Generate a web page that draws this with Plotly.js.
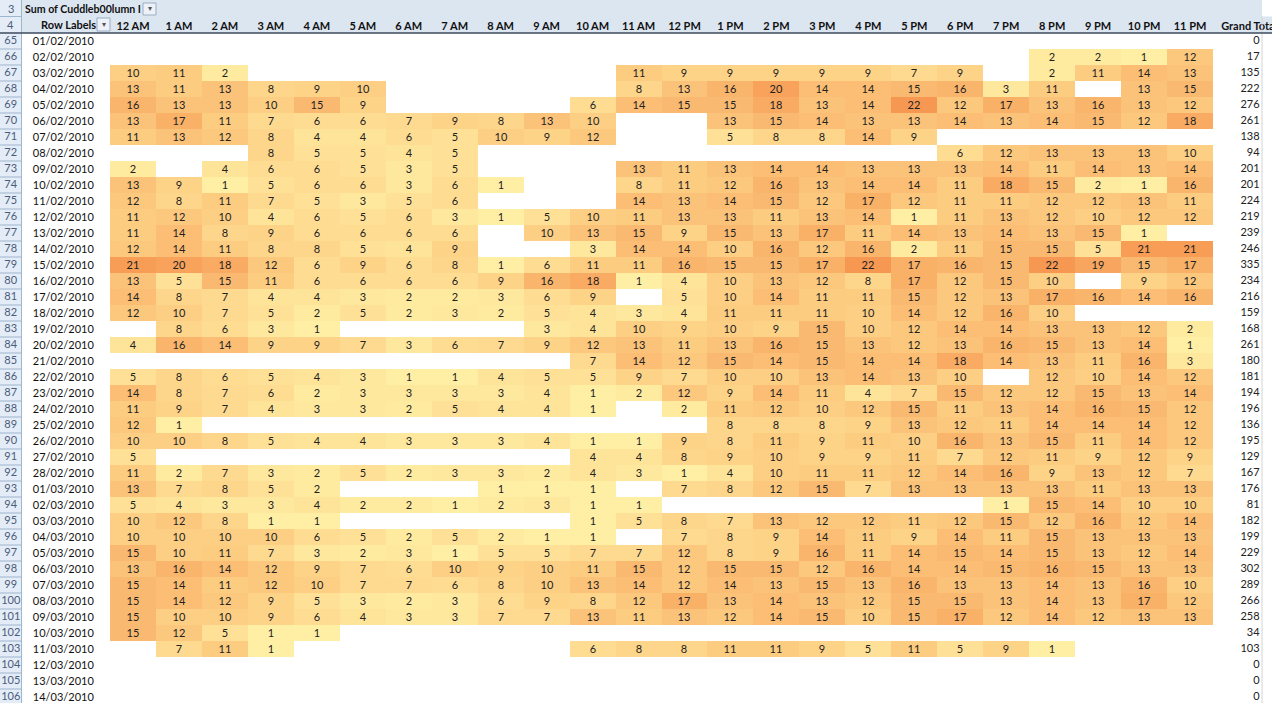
<!DOCTYPE html>
<html>
<head>
<meta charset="utf-8">
<script src="https://cdn.plot.ly/plotly-3.0.1.min.js"></script>
<style>html,body{margin:0;padding:0;background:#fff;}#chart{width:1272px;height:703px;}</style>
</head>
<body>
<div id="chart"></div>
<script>
const n = null;
const hours = ['12 AM','1 AM','2 AM','3 AM','4 AM','5 AM','6 AM','7 AM','8 AM','9 AM','10 AM','11 AM',
               '12 PM','1 PM','2 PM','3 PM','4 PM','5 PM','6 PM','7 PM','8 PM','9 PM','10 PM','11 PM'];
const rowNums = [65,66,67,68,69,70,71,72,73,74,75,76,77,78,79,80,81,82,83,84,85,
                 86,87,88,89,90,91,92,93,94,95,96,97,98,99,100,101,102,103,104,105,106];
const dates = ['01/02/2010','02/02/2010','03/02/2010','04/02/2010','05/02/2010','06/02/2010','07/02/2010',
               '08/02/2010','09/02/2010','10/02/2010','11/02/2010','12/02/2010','13/02/2010','14/02/2010',
               '15/02/2010','16/02/2010','17/02/2010','18/02/2010','19/02/2010','20/02/2010','21/02/2010',
               '22/02/2010','23/02/2010','24/02/2010','25/02/2010','26/02/2010','27/02/2010','28/02/2010',
               '01/03/2010','02/03/2010','03/03/2010','04/03/2010','05/03/2010','06/03/2010','07/03/2010',
               '08/03/2010','09/03/2010','10/03/2010','11/03/2010','12/03/2010','13/03/2010','14/03/2010'];
const counts = [
  [n,n,n,n,n,n,n,n,n,n,n,n,n,n,n,n,n,n,n,n,n,n,n,n],
  [n,n,n,n,n,n,n,n,n,n,n,n,n,n,n,n,n,n,n,n,2,2,1,12],
  [10,11,2,n,n,n,n,n,n,n,n,11,9,9,9,9,9,7,9,n,2,11,14,13],
  [13,11,13,8,9,10,n,n,n,n,n,8,13,16,20,14,14,15,16,3,11,n,13,15],
  [16,13,13,10,15,9,n,n,n,n,6,14,15,15,18,13,14,22,12,17,13,16,13,12],
  [13,17,11,7,6,6,7,9,8,13,10,n,n,13,15,14,13,13,14,13,14,15,12,18],
  [11,13,12,8,4,4,6,5,10,9,12,n,n,5,8,8,14,9,n,n,n,n,n,n],
  [n,n,n,8,5,5,4,5,n,n,n,n,n,n,n,n,n,n,6,12,13,13,13,10],
  [2,n,4,6,6,5,3,5,n,n,n,13,11,13,14,14,13,13,13,14,11,14,13,14],
  [13,9,1,5,6,6,3,6,1,n,n,8,11,12,16,13,14,14,11,18,15,2,1,16],
  [12,8,11,7,5,3,5,6,n,n,n,14,13,14,15,12,17,12,11,11,12,12,13,11],
  [11,12,10,4,6,5,6,3,1,5,10,11,13,13,11,13,14,1,11,13,12,10,12,12],
  [11,14,8,9,6,6,6,6,n,10,13,15,9,15,13,17,11,14,13,14,13,15,1,n],
  [12,14,11,8,8,5,4,9,n,n,3,14,14,10,16,12,16,2,11,15,15,5,21,21],
  [21,20,18,12,6,9,6,8,1,6,11,11,16,15,15,17,22,17,16,15,22,19,15,17],
  [13,5,15,11,6,6,6,6,9,16,18,1,4,10,13,12,8,17,12,15,10,n,9,12],
  [14,8,7,4,4,3,2,2,3,6,9,n,5,10,14,11,11,15,12,13,17,16,14,16],
  [12,10,7,5,2,5,2,3,2,5,4,3,4,11,11,11,10,14,12,16,10,n,n,n],
  [n,8,6,3,1,n,n,n,n,3,4,10,9,10,9,15,10,12,14,14,13,13,12,2],
  [4,16,14,9,9,7,3,6,7,9,12,13,11,13,16,15,13,12,13,16,15,13,14,1],
  [n,n,n,n,n,n,n,n,n,n,7,14,12,15,14,15,14,14,18,14,13,11,16,3],
  [5,8,6,5,4,3,1,1,4,5,5,9,7,10,10,13,14,13,10,n,12,10,14,12],
  [14,8,7,6,2,3,3,3,3,4,1,2,12,9,14,11,4,7,15,12,12,15,13,14],
  [11,9,7,4,3,3,2,5,4,4,1,n,2,11,12,10,12,15,11,13,14,16,15,12],
  [12,1,n,n,n,n,n,n,n,n,n,n,n,8,8,8,9,13,12,11,14,14,14,12],
  [10,10,8,5,4,4,3,3,3,4,1,1,9,8,11,9,11,10,16,13,15,11,14,12],
  [5,n,n,n,n,n,n,n,n,n,4,4,8,9,10,9,9,11,7,12,11,9,12,9],
  [11,2,7,3,2,5,2,3,3,2,4,3,1,4,10,11,11,12,14,16,9,13,12,7],
  [13,7,8,5,2,n,n,n,1,1,1,n,7,8,12,15,7,13,13,13,13,11,13,13],
  [5,4,3,3,4,2,2,1,2,3,1,1,n,n,n,n,n,n,n,1,15,14,10,10],
  [10,12,8,1,1,n,n,n,n,n,1,5,8,7,13,12,12,11,12,15,12,16,12,14],
  [10,10,10,10,6,5,2,5,2,1,1,n,7,8,9,14,11,9,14,11,15,13,13,13],
  [15,10,11,7,3,2,3,1,5,5,7,7,12,8,9,16,11,14,15,14,15,13,12,14],
  [13,16,14,12,9,7,6,10,9,10,11,15,12,15,15,12,16,14,14,15,16,15,13,13],
  [15,14,11,12,10,7,7,6,8,10,13,14,12,14,13,15,13,16,13,13,14,13,16,10],
  [15,14,12,9,5,3,2,3,6,9,8,12,17,13,14,13,12,15,15,13,14,13,17,12],
  [15,10,10,9,6,4,3,3,7,7,13,11,13,12,14,15,10,15,17,12,14,12,13,13],
  [15,12,5,1,1,n,n,n,n,n,n,n,n,n,n,n,n,n,n,n,n,n,n,n],
  [n,7,11,1,n,n,n,n,n,n,6,8,8,11,11,9,5,11,5,9,1,n,n,n],
  [n,n,n,n,n,n,n,n,n,n,n,n,n,n,n,n,n,n,n,n,n,n,n,n],
  [n,n,n,n,n,n,n,n,n,n,n,n,n,n,n,n,n,n,n,n,n,n,n,n],
  [n,n,n,n,n,n,n,n,n,n,n,n,n,n,n,n,n,n,n,n,n,n,n,n]
];
const totals = [0,17,135,222,276,261,138,94,201,201,224,219,239,246,335,234,216,159,168,261,180,
                181,194,196,136,195,129,167,176,81,182,199,229,302,289,266,258,34,103,0,0,0];

const W = 1272, H = 703;
const px = x => x / W;
const py = y => 1 - y / H;
const FONT = 'Lato, "Noto Sans", sans-serif';
const FS = 11;

const cellText = counts.map(r => r.map(v => v === null ? '' : String(v)));

const heat = {
  type: 'heatmap', x: hours, y: dates, z: counts,
  text: cellText, texttemplate: '%{text}',
  textfont: {family: FONT, size: FS, color: '#222'},
  colorscale: [[0, '#FFEFA4'], [0.5, '#FCCA7F'], [1, '#F79852']],
  zmin: 1, zmax: 22, showscale: false, hoverinfo: 'skip', xgap: 0, ygap: 0
};
const totalTrace = {
  type: 'scatter', mode: 'text', xaxis: 'x2', yaxis: 'y',
  x: totals.map(() => 0.95), y: dates, text: totals.map(String),
  textposition: 'middle left', cliponaxis: false,
  textfont: {family: FONT, size: FS, color: '#222'}, hoverinfo: 'skip'
};
const rowNumTrace = {
  type: 'scatter', mode: 'text', xaxis: 'x3', yaxis: 'y',
  x: rowNums.map(() => 0.5), y: dates, text: rowNums.map(String),
  textposition: 'middle center', cliponaxis: false,
  textfont: {family: FONT, size: FS, color: '#4A5C7A'}, hoverinfo: 'skip'
};

const shapes = [];
shapes.push({type:'rect', xref:'paper', yref:'paper', x0:0, x1:1, y0:py(33), y1:1,
             fillcolor:'#DCE6F1', line:{width:0}, layer:'below'});
shapes.push({type:'rect', xref:'paper', yref:'paper', x0:px(1262), x1:1, y0:py(16.5), y1:1,
             fillcolor:'#FFFFFF', line:{width:0}, layer:'below'});
shapes.push({type:'rect', xref:'paper', yref:'paper', x0:0, x1:px(21.5), y0:0, y1:1,
             fillcolor:'#E4ECF7', line:{width:0}, layer:'below'});
shapes.push({type:'line', xref:'paper', yref:'paper', x0:px(21.5), x1:px(21.5), y0:0, y1:1,
             line:{color:'#9EB6CE', width:1}});
shapes.push({type:'line', xref:'paper', yref:'paper', x0:0, x1:px(21.5), y0:py(16.5), y1:py(16.5),
             line:{color:'#9EB6CE', width:1}});
for (let i = 0; i < dates.length; i++) {
  shapes.push({type:'line', xref:'paper', yref:'y', x0:0, x1:px(21.5), y0:i + 0.5, y1:i + 0.5,
               line:{color:'#9EB6CE', width:1}});
}
shapes.push({type:'line', xref:'paper', yref:'paper', x0:px(1262), x1:px(1262), y0:0, y1:py(16.5),
             line:{color:'#D4D4D4', width:1}});
shapes.push({type:'line', xref:'paper', yref:'paper', x0:0, x1:1, y0:py(33), y1:py(33),
             line:{color:'#3E4B5E', width:1.3}});
function btn(x0, y0, x1, y1) {
  shapes.push({type:'rect', xref:'paper', yref:'paper', x0:px(x0), x1:px(x1), y0:py(y1), y1:py(y0),
               fillcolor:'#EEF2F8', line:{color:'#9AACC4', width:1}});
}
btn(143, 3, 156, 15);
btn(97, 18, 110, 31);

const annotations = [
  {text:'3', x:px(10.5), y:py(8.5)},
  {text:'4', x:px(10.5), y:py(24.5)},
].map(a => Object.assign(a, {xref:'paper', yref:'paper', showarrow:false, xanchor:'center', yanchor:'middle',
   font:{family:FONT, size:FS, color:'#4A5C7A'}}));
annotations.push({text:'<b>Sum of Cuddleb00lumn I</b>', x:px(22.5), y:py(8.5), xref:'paper', yref:'paper',
  showarrow:false, xanchor:'left', yanchor:'middle', font:{family:FONT, size:10.6, color:'#111'}});
annotations.push({text:'<b>Row Labels</b>', x:px(39), y:py(24.5), xref:'paper', yref:'paper',
  showarrow:false, xanchor:'left', yanchor:'middle', font:{family:FONT, size:FS, color:'#111'}});
annotations.push({text:'▾', x:px(149.5), y:py(9), xref:'paper', yref:'paper', showarrow:false,
  xanchor:'center', yanchor:'middle', font:{family:'DejaVu Sans', size:8, color:'#555'}});
annotations.push({text:'▾', x:px(103.5), y:py(24.5), xref:'paper', yref:'paper', showarrow:false,
  xanchor:'center', yanchor:'middle', font:{family:'DejaVu Sans', size:8, color:'#555'}});

const layout = {
  width: W, height: H, margin: {l:0, r:0, t:0, b:0, pad:0},
  paper_bgcolor: '#FFFFFF', plot_bgcolor: 'rgba(0,0,0,0)', showlegend: false,
  font: {family: FONT},
  xaxis: {domain:[px(110), px(1213)], type:'category', side:'top', range:[-0.5, 23.5],
          showgrid:false, zeroline:false, showline:false, ticks:'', fixedrange:true,
          tickfont:{family:FONT, size:FS, color:'#111', weight:'bold'}},
  xaxis2: {domain:[px(1213), px(1262)], range:[0, 1], anchor:'y', side:'top',
           tickvals:[0.74], ticktext:['Grand Total'], ticklabeloverflow:'allow',
           showgrid:false, zeroline:false, showline:false,
           ticks:'', fixedrange:true, tickfont:{family:FONT, size:FS, color:'#111', weight:'bold'}},
  xaxis3: {domain:[0, px(21.5)], range:[0, 1], anchor:'y', showticklabels:false,
           showgrid:false, zeroline:false, showline:false, ticks:'', fixedrange:true},
  yaxis: {domain:[0, py(33)], type:'category', range:[41.375, -0.5],
          showgrid:false, zeroline:false, showline:false, ticks:'outside', ticklen:13,
          tickcolor:'rgba(0,0,0,0)', fixedrange:true,
          tickfont:{family:FONT, size:FS, color:'#111'}},
  shapes: shapes, annotations: annotations
};

Plotly.newPlot('chart', [heat, totalTrace, rowNumTrace], layout, {staticPlot:true, displayModeBar:false});
</script>
</body>
</html>
